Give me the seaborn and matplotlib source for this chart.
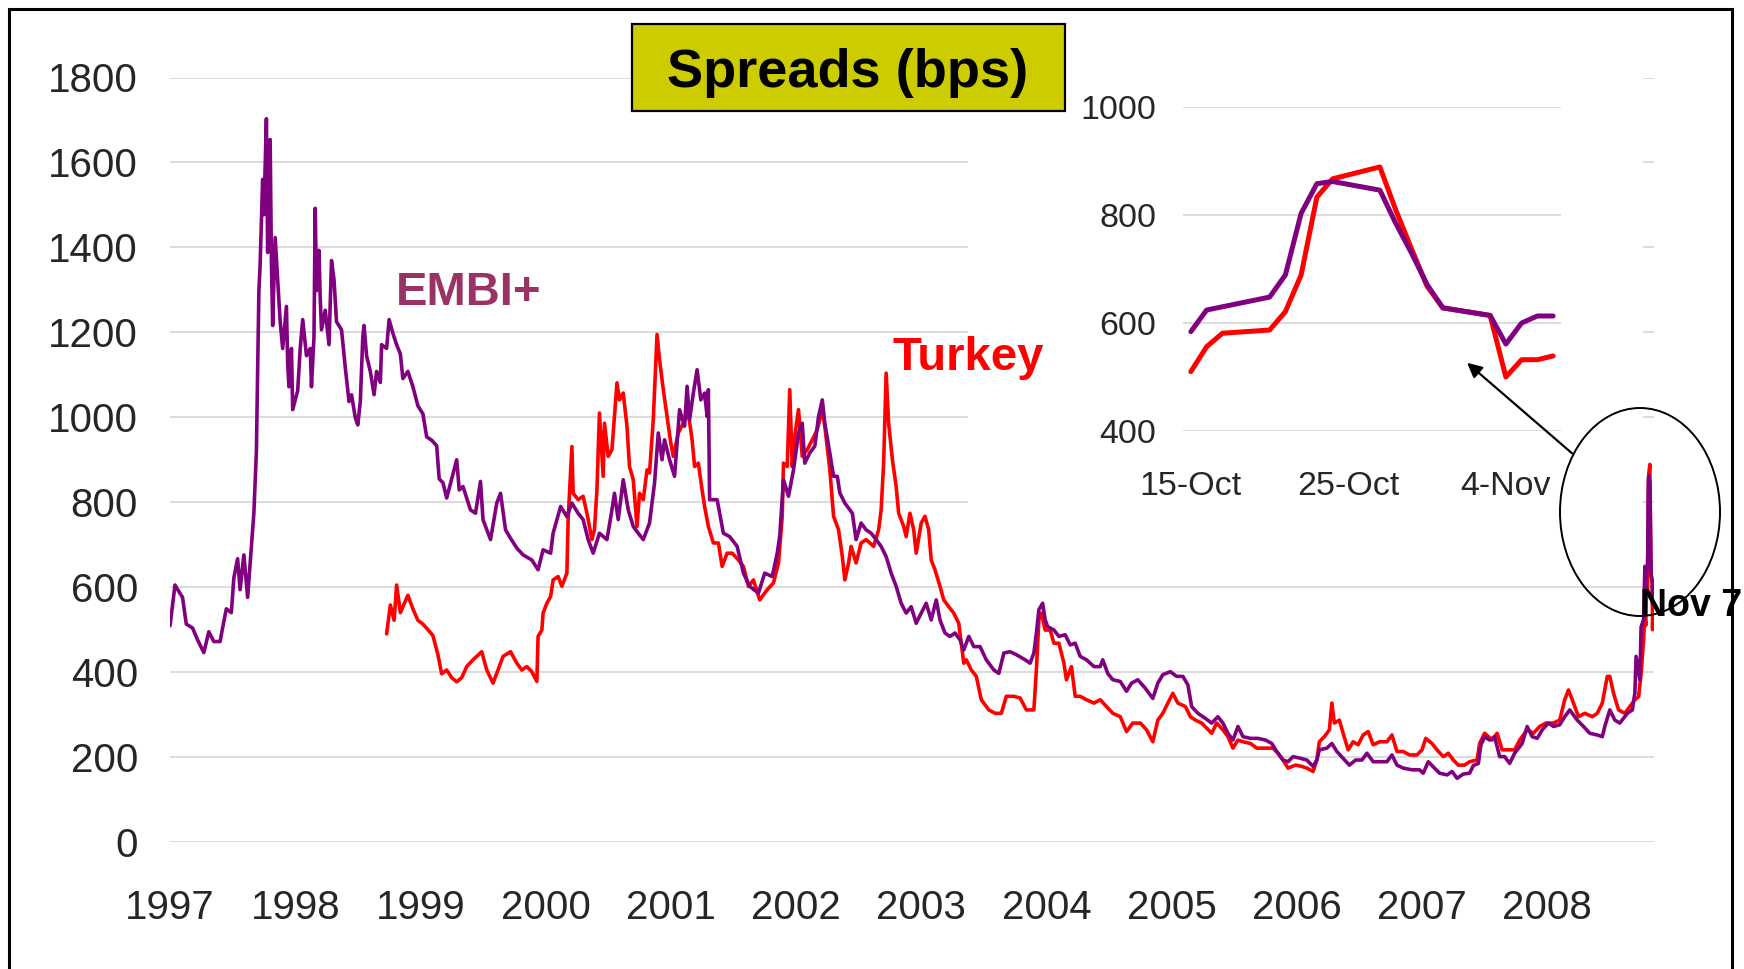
import pandas as pd
import matplotlib.pyplot as plt
import seaborn as sns
from matplotlib.patches import Rectangle, Ellipse, FancyArrowPatch

# EMBI+ spread (bps): (decimal year, value)
embi_pts = [
    (1997.00, 509), (1997.04, 605), (1997.07, 590), (1997.10, 576), (1997.13, 513),
    (1997.18, 504), (1997.22, 476), (1997.27, 446), (1997.31, 495), (1997.35, 472),
    (1997.40, 472), (1997.42, 504), (1997.45, 549), (1997.49, 540), (1997.51, 622),
    (1997.54, 667), (1997.56, 594), (1997.59, 676), (1997.62, 576), (1997.64, 657),
    (1997.67, 775), (1997.69, 919), (1997.71, 1298), (1997.72, 1360), (1997.74, 1560),
    (1997.75, 1477), (1997.77, 1703), (1997.78, 1388), (1997.80, 1654), (1997.81, 1369),
    (1997.82, 1216), (1997.84, 1423), (1997.86, 1324), (1997.88, 1225), (1997.90, 1162),
    (1997.93, 1261), (1997.94, 1126), (1997.95, 1072), (1997.97, 1162), (1997.98, 1018),
    (1998.02, 1063), (1998.04, 1162), (1998.06, 1230), (1998.09, 1145), (1998.12, 1162),
    (1998.13, 1072), (1998.15, 1190), (1998.16, 1492), (1998.17, 1298), (1998.19, 1393),
    (1998.20, 1280), (1998.21, 1206), (1998.24, 1252), (1998.27, 1171), (1998.29, 1369),
    (1998.31, 1324), (1998.33, 1225), (1998.37, 1206), (1998.40, 1117), (1998.43, 1037),
    (1998.45, 1053), (1998.48, 999), (1998.50, 982), (1998.52, 1037), (1998.54, 1190),
    (1998.55, 1216), (1998.57, 1145), (1998.60, 1108), (1998.63, 1053), (1998.65, 1108),
    (1998.68, 1082), (1998.69, 1171), (1998.73, 1162), (1998.75, 1230), (1998.78, 1198),
    (1998.81, 1171), (1998.84, 1149), (1998.86, 1091), (1998.90, 1108), (1998.94, 1072),
    (1998.98, 1027), (1999.02, 1008), (1999.05, 954), (1999.09, 946), (1999.13, 933),
    (1999.15, 855), (1999.18, 846), (1999.21, 810), (1999.25, 855), (1999.29, 900),
    (1999.31, 829), (1999.34, 837), (1999.40, 782), (1999.44, 774), (1999.48, 849),
    (1999.50, 759), (1999.56, 712), (1999.61, 798), (1999.64, 821), (1999.68, 735),
    (1999.72, 715), (1999.77, 692), (1999.82, 676), (1999.89, 664), (1999.94, 641),
    (1999.98, 688), (2000.04, 680), (2000.06, 727), (2000.12, 790), (2000.17, 766),
    (2000.21, 798), (2000.26, 774), (2000.30, 759), (2000.34, 712), (2000.38, 680),
    (2000.43, 727), (2000.49, 712), (2000.53, 782), (2000.55, 821), (2000.58, 759),
    (2000.62, 853), (2000.66, 782), (2000.70, 743), (2000.74, 727), (2000.78, 712),
    (2000.83, 751), (2000.87, 845), (2000.90, 963), (2000.93, 900), (2000.95, 947),
    (2000.99, 900), (2001.03, 861), (2001.07, 1018), (2001.11, 979), (2001.13, 1073),
    (2001.15, 994), (2001.18, 1057), (2001.21, 1112), (2001.24, 1041), (2001.27, 1057),
    (2001.29, 1002), (2001.30, 1065), (2001.31, 806), (2001.37, 806), (2001.42, 727),
    (2001.47, 719), (2001.53, 696), (2001.58, 633), (2001.63, 602), (2001.70, 586),
    (2001.75, 633), (2001.81, 625), (2001.85, 680), (2001.87, 720), (2001.90, 853),
    (2001.94, 814), (2001.98, 876), (2002.02, 963), (2002.05, 986), (2002.07, 892),
    (2002.11, 916), (2002.15, 932), (2002.18, 1002), (2002.21, 1041), (2002.23, 986),
    (2002.27, 916), (2002.30, 861), (2002.33, 861), (2002.35, 822), (2002.39, 798),
    (2002.45, 774), (2002.48, 712), (2002.52, 751), (2002.56, 735), (2002.60, 727),
    (2002.64, 712), (2002.68, 696), (2002.72, 672), (2002.76, 633), (2002.80, 602),
    (2002.84, 562), (2002.88, 539), (2002.92, 554), (2002.96, 515), (2003.00, 539),
    (2003.04, 562), (2003.08, 523), (2003.12, 570), (2003.15, 523), (2003.19, 492),
    (2003.23, 484), (2003.27, 492), (2003.31, 476), (2003.34, 452), (2003.38, 484),
    (2003.42, 460), (2003.47, 460), (2003.52, 429), (2003.58, 405), (2003.62, 397),
    (2003.66, 445), (2003.71, 448), (2003.76, 441), (2003.83, 429), (2003.87, 421),
    (2003.90, 445), (2003.92, 492), (2003.94, 547), (2003.97, 562), (2003.99, 523),
    (2004.01, 507), (2004.06, 499), (2004.10, 484), (2004.15, 488), (2004.19, 464),
    (2004.23, 468), (2004.27, 437), (2004.32, 429), (2004.38, 413), (2004.43, 413),
    (2004.45, 429), (2004.49, 397), (2004.53, 382), (2004.59, 378), (2004.64, 355),
    (2004.68, 374), (2004.73, 382), (2004.79, 362), (2004.85, 338), (2004.89, 374),
    (2004.93, 394), (2004.99, 401), (2005.04, 390), (2005.09, 390), (2005.13, 370),
    (2005.16, 319), (2005.21, 303), (2005.27, 291), (2005.32, 280), (2005.37, 295),
    (2005.41, 280), (2005.45, 256), (2005.49, 240), (2005.53, 272), (2005.57, 248),
    (2005.63, 244), (2005.69, 244), (2005.75, 240), (2005.80, 232), (2005.84, 213),
    (2005.89, 193), (2005.93, 189), (2005.97, 201), (2006.03, 197), (2006.08, 193),
    (2006.13, 178), (2006.16, 193), (2006.18, 217), (2006.24, 221), (2006.28, 232),
    (2006.32, 213), (2006.37, 197), (2006.42, 181), (2006.47, 193), (2006.52, 193),
    (2006.56, 209), (2006.61, 189), (2006.66, 189), (2006.72, 189), (2006.76, 205),
    (2006.80, 181), (2006.85, 174), (2006.92, 170), (2006.98, 170), (2007.01, 162),
    (2007.05, 189), (2007.10, 174), (2007.14, 162), (2007.20, 158), (2007.24, 166),
    (2007.28, 150), (2007.33, 160), (2007.38, 162), (2007.41, 180), (2007.45, 185),
    (2007.47, 228), (2007.50, 248), (2007.54, 240), (2007.58, 248), (2007.62, 201),
    (2007.66, 201), (2007.70, 185), (2007.74, 209), (2007.80, 232), (2007.84, 272),
    (2007.88, 248), (2007.92, 244), (2007.96, 264), (2008.01, 280), (2008.05, 272),
    (2008.10, 276), (2008.14, 295), (2008.18, 311), (2008.24, 287), (2008.29, 272),
    (2008.34, 256), (2008.40, 252), (2008.44, 248), (2008.46, 272), (2008.50, 311),
    (2008.54, 287), (2008.58, 280), (2008.64, 303), (2008.68, 311), (2008.70, 350),
    (2008.71, 437), (2008.74, 382), (2008.75, 507), (2008.77, 523), (2008.78, 649),
]

# Turkey spread (bps)
turkey_pts = [
    (1998.73, 490), (1998.76, 558), (1998.79, 522), (1998.81, 605), (1998.84, 540),
    (1998.88, 567), (1998.90, 581), (1998.94, 549), (1998.98, 522), (1999.02, 513),
    (1999.06, 500), (1999.10, 486), (1999.14, 441), (1999.17, 396), (1999.21, 405),
    (1999.25, 387), (1999.29, 377), (1999.33, 387), (1999.37, 413), (1999.42, 429),
    (1999.49, 448), (1999.53, 405), (1999.58, 374), (1999.62, 405), (1999.66, 437),
    (1999.72, 448), (1999.77, 421), (1999.81, 405), (1999.85, 413), (1999.89, 401),
    (1999.93, 378), (1999.94, 484), (1999.97, 499), (1999.98, 539), (2000.01, 562),
    (2000.04, 578), (2000.06, 617), (2000.10, 625), (2000.13, 602), (2000.17, 633),
    (2000.18, 759), (2000.21, 931), (2000.22, 821), (2000.26, 806), (2000.30, 814),
    (2000.33, 774), (2000.37, 712), (2000.39, 735), (2000.41, 829), (2000.43, 1010),
    (2000.46, 861), (2000.47, 986), (2000.50, 908), (2000.53, 924), (2000.55, 1002),
    (2000.57, 1081), (2000.59, 1041), (2000.62, 1057), (2000.65, 979), (2000.67, 884),
    (2000.70, 853), (2000.73, 743), (2000.75, 821), (2000.78, 806), (2000.81, 876),
    (2000.83, 869), (2000.86, 994), (2000.89, 1195), (2000.91, 1136), (2000.94, 1065),
    (2000.97, 1002), (2001.00, 939), (2001.02, 908), (2001.06, 963), (2001.10, 986),
    (2001.14, 1010), (2001.17, 947), (2001.19, 884), (2001.22, 892), (2001.25, 829),
    (2001.27, 790), (2001.30, 743), (2001.34, 704), (2001.38, 704), (2001.41, 649),
    (2001.45, 680), (2001.49, 680), (2001.54, 664), (2001.58, 649), (2001.62, 602),
    (2001.66, 617), (2001.71, 570), (2001.77, 594), (2001.82, 610), (2001.86, 657),
    (2001.89, 766), (2001.90, 892), (2001.93, 884), (2001.95, 1065), (2001.97, 884),
    (2001.99, 955), (2002.02, 1018), (2002.05, 908), (2002.09, 924), (2002.13, 947),
    (2002.17, 971), (2002.21, 1018), (2002.23, 979), (2002.27, 877), (2002.30, 767),
    (2002.34, 735), (2002.37, 672), (2002.39, 617), (2002.42, 657), (2002.44, 696),
    (2002.48, 657), (2002.52, 704), (2002.56, 712), (2002.62, 696), (2002.66, 735),
    (2002.68, 782), (2002.70, 892), (2002.72, 1104), (2002.74, 986), (2002.77, 900),
    (2002.80, 837), (2002.82, 774), (2002.86, 743), (2002.88, 719), (2002.91, 774),
    (2002.94, 735), (2002.96, 680), (2003.00, 751), (2003.03, 767), (2003.06, 735),
    (2003.08, 664), (2003.11, 641), (2003.15, 602), (2003.18, 570), (2003.22, 554),
    (2003.26, 539), (2003.30, 515), (2003.34, 421), (2003.36, 429), (2003.40, 405),
    (2003.44, 390), (2003.48, 335), (2003.54, 311), (2003.59, 303), (2003.64, 303),
    (2003.68, 343), (2003.74, 343), (2003.79, 339), (2003.84, 311), (2003.90, 311),
    (2003.92, 405), (2003.94, 523), (2003.96, 539), (2003.99, 499), (2004.03, 499),
    (2004.06, 468), (2004.10, 468), (2004.14, 421), (2004.16, 382), (2004.20, 413),
    (2004.23, 343), (2004.27, 343), (2004.32, 335), (2004.38, 327), (2004.43, 335),
    (2004.48, 319), (2004.53, 303), (2004.59, 295), (2004.64, 260), (2004.69, 280),
    (2004.75, 280), (2004.80, 264), (2004.85, 236), (2004.89, 287), (2004.93, 303),
    (2004.97, 327), (2005.01, 350), (2005.05, 327), (2005.11, 319), (2005.15, 295),
    (2005.19, 287), (2005.24, 280), (2005.28, 268), (2005.32, 256), (2005.36, 280),
    (2005.41, 264), (2005.45, 248), (2005.49, 221), (2005.53, 240), (2005.57, 236),
    (2005.63, 232), (2005.68, 221), (2005.76, 221), (2005.81, 221), (2005.85, 209),
    (2005.89, 193), (2005.93, 174), (2005.99, 181), (2006.04, 178), (2006.08, 174),
    (2006.13, 166), (2006.16, 193), (2006.18, 236), (2006.22, 248), (2006.26, 264),
    (2006.28, 327), (2006.30, 280), (2006.34, 287), (2006.37, 256), (2006.41, 217),
    (2006.45, 236), (2006.49, 229), (2006.53, 252), (2006.57, 260), (2006.61, 229),
    (2006.66, 236), (2006.72, 236), (2006.76, 252), (2006.80, 213), (2006.85, 213),
    (2006.90, 205), (2006.96, 205), (2007.00, 217), (2007.03, 244), (2007.08, 232),
    (2007.12, 217), (2007.17, 201), (2007.21, 209), (2007.25, 193), (2007.29, 181),
    (2007.34, 181), (2007.38, 189), (2007.44, 193), (2007.46, 232), (2007.50, 256),
    (2007.56, 240), (2007.60, 256), (2007.64, 217), (2007.69, 217), (2007.74, 217),
    (2007.78, 240), (2007.84, 264), (2007.89, 256), (2007.94, 272), (2007.99, 280),
    (2008.05, 280), (2008.10, 287), (2008.14, 335), (2008.17, 358), (2008.21, 327),
    (2008.25, 295), (2008.30, 303), (2008.36, 295), (2008.40, 303), (2008.44, 327),
    (2008.48, 390), (2008.50, 390), (2008.53, 350), (2008.57, 311), (2008.62, 303),
    (2008.66, 319), (2008.70, 335), (2008.73, 342), (2008.75, 397), (2008.77, 476),
    (2008.78, 539),
]

# daily values for the zoomed inset (15 Oct - 7 Nov 2008)
oct_dates = ['2008-10-15', '2008-10-16', '2008-10-17', '2008-10-20', '2008-10-21',
             '2008-10-22', '2008-10-23', '2008-10-24', '2008-10-27', '2008-10-28',
             '2008-10-29', '2008-10-30', '2008-10-31', '2008-11-03', '2008-11-04',
             '2008-11-05', '2008-11-06', '2008-11-07']
oct_embi = [584, 624, 630, 648, 689, 803, 858, 862, 846, 785, 730, 671, 628, 614, 561, 600, 613, 613]
oct_turkey = [510, 556, 581, 587, 621, 689, 833, 867, 889, 810, 738, 668, 628, 614, 500, 532, 532, 539]

years = list(range(1997, 2009))
y_ticks = list(range(0, 1801, 200))
inset_ticks = ['2008-10-15', '2008-10-25', '2008-11-04']
inset_labels = ['15-Oct', '25-Oct', '4-Nov']

# ---- build series ----
oct_dt = pd.to_datetime(oct_dates)
oct_dec = list(2008 + (oct_dt.dayofyear - 1) / 366)

embi_year = [p[0] for p in embi_pts] + oct_dec
embi_bps = [p[1] for p in embi_pts] + oct_embi
turkey_year = [p[0] for p in turkey_pts] + oct_dec
turkey_bps = [p[1] for p in turkey_pts] + oct_turkey

PURPLE = '#800080'
RED = '#ff0000'
GRID = '#d6d6d6'

sns.set_style('white')
plt.rcParams['font.family'] = ['Liberation Sans', 'DejaVu Sans']

W, H = 1744, 969
fig = plt.figure(figsize=(W / 100, H / 100), dpi=100)


def fx(px):
    return px / W


def fy(py):
    return 1 - py / H


# main chart
ax = fig.add_axes([fx(170), fy(842), 1484 / W, 764.5 / H])
sns.lineplot(x=turkey_year, y=turkey_bps, ax=ax, color=RED, lw=2.6, estimator=None, sort=False)
sns.lineplot(x=embi_year, y=embi_bps, ax=ax, color=PURPLE, lw=2.6, estimator=None, sort=False)
ax.set_xlim(1997.0, 2008.853)
ax.set_ylim(0, 1800)
ax.set_xticks(years)
ax.set_xticklabels([str(y) for y in years])
ax.set_yticks(y_ticks)
ax.set_yticklabels([str(v) for v in y_ticks])
ax.tick_params(axis='both', length=0, labelsize=29)
ax.tick_params(axis='x', pad=34)
ax.tick_params(axis='y', pad=23)
ax.grid(axis='y', color=GRID, lw=1.2)
ax.grid(axis='x', visible=False)
ax.set_axisbelow(True)
for s in ax.spines.values():
    s.set_visible(False)
ax.set_xlabel('')
ax.set_ylabel('')

# white area behind the inset chart
fig.add_artist(Rectangle((fx(968), fy(560)), (1643 - 968) / W, 500 / H,
                         transform=fig.transFigure, facecolor='white',
                         edgecolor='none', zorder=0.5))

# inset
ax2 = fig.add_axes([fx(1183), fy(431), 378 / W, 324 / H])
ax2.set_zorder(1)
ax2.set_facecolor('none')
sns.lineplot(x=oct_dt, y=oct_turkey, ax=ax2, color=RED, lw=3.6, estimator=None, sort=False)
sns.lineplot(x=oct_dt, y=oct_embi, ax=ax2, color=PURPLE, lw=3.6, estimator=None, sort=False)
ax2.set_xlim(pd.Timestamp('2008-10-14 12:00'), pd.Timestamp('2008-11-07 12:00'))
ax2.set_ylim(400, 1000)
ax2.set_yticks([400, 600, 800, 1000])
ax2.set_yticklabels(['400', '600', '800', '1000'])
ax2.set_xticks(pd.to_datetime(inset_ticks))
ax2.set_xticklabels(inset_labels)
ax2.tick_params(axis='both', length=0, labelsize=24.5)
ax2.tick_params(axis='x', pad=29)
ax2.tick_params(axis='y', pad=19)
ax2.grid(axis='y', color=GRID, lw=1.2)
ax2.grid(axis='x', visible=False)
ax2.set_axisbelow(True)
for s in ax2.spines.values():
    s.set_visible(False)
ax2.set_xlabel('')
ax2.set_ylabel('')

# title box
fig.add_artist(Rectangle((fx(632), fy(111)), (1065 - 632) / W, 87 / H,
                         transform=fig.transFigure, facecolor='#cccc00',
                         edgecolor='black', lw=1.6, zorder=5))
fig.text(fx(848), fy(87.5), 'Spreads (bps)', ha='center', va='baseline',
         fontsize=39, fontweight='bold', color='black', zorder=6)

# series labels
fig.text(fx(396), fy(305), 'EMBI+', ha='left', va='baseline',
         fontsize=34, fontweight='bold', color='#993366')
fig.text(fx(892), fy(370), 'Turkey', ha='left', va='baseline',
         fontsize=34, fontweight='bold', color=RED)

# ellipse, arrow and note
fig.add_artist(Ellipse((fx(1640), fy(512)), 160 / W, 208 / H, transform=fig.transFigure,
                       facecolor='none', edgecolor='black', lw=1.4, zorder=5))
fig.add_artist(FancyArrowPatch((fx(1574), fy(455)), (fx(1465), fy(361)),
                               transform=fig.transFigure, arrowstyle='-|>',
                               mutation_scale=22, lw=1.6, color='black', zorder=5))
fig.text(fx(1640), fy(616), 'Nov 7', ha='left', va='baseline',
         fontsize=27, fontweight='bold', color='black', zorder=6)

# outer frame
fig.add_artist(Rectangle((fx(9), -0.05), (1732 - 9) / W, 1.05 - 9 / H,
                         transform=fig.transFigure, facecolor='none',
                         edgecolor='black', lw=2.2, zorder=7))

fig.savefig('out.png', dpi=100)
